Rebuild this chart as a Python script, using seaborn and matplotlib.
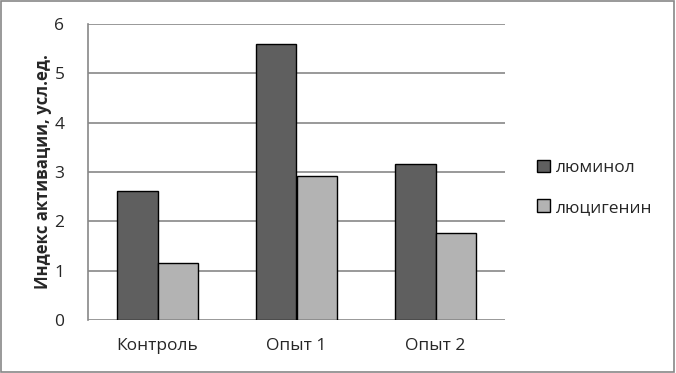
import pandas as pd
import matplotlib
matplotlib.use("Agg")
import matplotlib.pyplot as plt
import seaborn as sns

categories = ["Контроль", "Опыт 1", "Опыт 2"]
series = ["люминол", "люцигенин"]
luminol = [2.61, 5.59, 3.16]
lucigenin = [1.16, 2.92, 1.76]
y_ticks = [0, 1, 2, 3, 4, 5, 6]

df = pd.DataFrame({
    "group": categories * 2,
    "reagent": [series[0]] * 3 + [series[1]] * 3,
    "value": luminol + lucigenin,
})

sns.set_style("white")
plt.rcParams["font.family"] = ["Open Sans", "DejaVu Sans"]

fig = plt.figure(figsize=(6.76, 3.73), dpi=100)
ax = fig.add_axes([88 / 676, 1 - 320 / 373, (505 - 88) / 676, (320 - 24) / 373])

sns.barplot(data=df, x="group", y="value", hue="reagent", order=categories,
            hue_order=series, palette=["#5f5f5f", "#b3b3b3"],
            width=0.576, gap=0, edgecolor="black", linewidth=1,
            saturation=1, errorbar=None, ax=ax, zorder=3)

ax.set_ylim(0, 6)
ax.set_xlim(-0.5, 2.5)
ax.set_yticks(y_ticks)
ax.yaxis.grid(True, color="#878787", linewidth=1.2, zorder=0)
ax.set_axisbelow(True)
for s in ["top", "right", "bottom"]:
    ax.spines[s].set_visible(False)
ax.spines["left"].set_color("#878787")
ax.spines["left"].set_linewidth(1.2)
ax.tick_params(axis="y", length=5, color="#878787", labelsize=12.5, pad=12)
ax.tick_params(axis="x", length=0, labelsize=12.5, pad=13)
ax.set_xlabel("")
ax.set_ylabel("Индекс активации, усл.ед.", fontsize=12, fontweight="bold", labelpad=2)

ax.legend(loc="upper left", bbox_to_anchor=(1.04, 0.595), frameon=False,
          fontsize=12.5, handlelength=0.75, handleheight=0.75,
          handletextpad=0.35, labelspacing=1.35)
ax.get_legend().set_title(None)

border = plt.Rectangle((0.002, 0.003), 0.995, 0.994, transform=fig.transFigure,
                       fill=False, edgecolor="#878787", linewidth=1.2)
fig.patches.append(border)

fig.savefig("out.png", dpi=100)
